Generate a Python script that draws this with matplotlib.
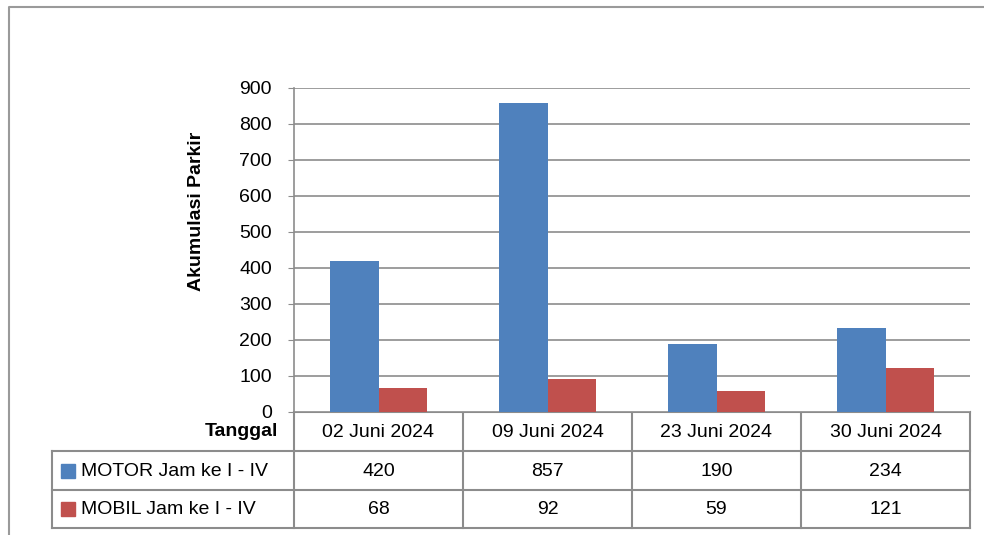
import matplotlib
matplotlib.use('Agg')
import matplotlib.pyplot as plt
import numpy as np

# data
tanggal = ['02 Juni 2024', '09 Juni 2024', '23 Juni 2024', '30 Juni 2024']
motor = [420, 857, 190, 234]
mobil = [68, 92, 59, 121]
seri = ['MOTOR Jam ke I - IV', 'MOBIL Jam ke I - IV']
warna = ['#4F81BD', '#C0504D']
yticks = [0, 100, 200, 300, 400, 500, 600, 700, 800, 900]

W, H = 984, 535
plt.rcParams['font.family'] = ['Liberation Sans Narrow', 'Liberation Sans', 'DejaVu Sans']
fs = 14
grid_c = '#8C8C8C'

fig = plt.figure(figsize=(W / 100, H / 100), dpi=100, facecolor='w')

# plot area in pixels
L, R, T, B = 294, 970, 88, 412
ax = fig.add_axes([L / W, 1 - B / H, (R - L) / W, (B - T) / H])

n = len(tanggal)
x = np.arange(n)
bw = 0.285
ax.bar(x - bw / 2, motor, bw, color=warna[0], zorder=3)
ax.bar(x + bw / 2, mobil, bw, color=warna[1], zorder=3)

ax.set_xlim(-0.5, n - 0.5)
ax.set_ylim(0, 900)
ax.set_yticks(yticks)
ax.set_yticklabels([str(v) for v in yticks], fontsize=fs)
ax.set_xticks([])
ax.yaxis.grid(True, color=grid_c, linewidth=1.2, zorder=0)
for s in ['top', 'right', 'bottom']:
    ax.spines[s].set_visible(False)
ax.spines['left'].set_color(grid_c)
ax.spines['left'].set_linewidth(1.2)
ax.tick_params(axis='y', length=4, color=grid_c, pad=12)
ax.set_ylabel('Akumulasi Parkir', fontsize=fs, fontweight='bold', labelpad=4)
ax.yaxis.set_label_coords(-0.132, 0.62)

# overlay in pixel coordinates for the data table and frame
ov = fig.add_axes([0, 0, 1, 1], zorder=-1)
ov.set_xlim(0, W)
ov.set_ylim(H, 0)
ov.axis('off')
ov.patch.set_alpha(0)

# outer chart frame
ov.plot([9, 9, W + 5], [H + 5, 7, 7], color='#9A9A9A', lw=1.5)

rows = [412, 451, 490, 528]
cw = (R - L) / n
tab_l = 52
lc = '#8C8C8C'
# horizontal lines
ov.plot([L, R], [rows[0], rows[0]], color=lc, lw=1.5)
for yy in rows[1:]:
    ov.plot([tab_l, R], [yy, yy], color=lc, lw=1.5)
# vertical lines
ov.plot([tab_l, tab_l], [rows[1], rows[3]], color=lc, lw=1.5)
for i in range(n + 1):
    xx = L + i * cw
    ov.plot([xx, xx], [rows[0], rows[3]], color=lc, lw=1.5)

ov.text(278, (rows[0] + rows[1]) / 2, 'Tanggal', fontsize=fs, fontweight='bold',
        ha='right', va='center')
for i, t in enumerate(tanggal):
    ov.text(L + (i + 0.5) * cw, (rows[0] + rows[1]) / 2 + 1, t, fontsize=fs,
            ha='center', va='center')
for r, (vals, nama, c) in enumerate(zip([motor, mobil], seri, warna)):
    yc = (rows[r + 1] + rows[r + 2]) / 2
    ov.add_patch(plt.Rectangle((61, yc - 7), 14, 14, color=c))
    ov.text(81, yc + 1, nama, fontsize=fs, ha='left', va='center')
    for i, v in enumerate(vals):
        ov.text(L + (i + 0.5) * cw, yc + 1, str(v), fontsize=fs, ha='center', va='center')

fig.savefig('out.png', dpi=100, facecolor='w')
